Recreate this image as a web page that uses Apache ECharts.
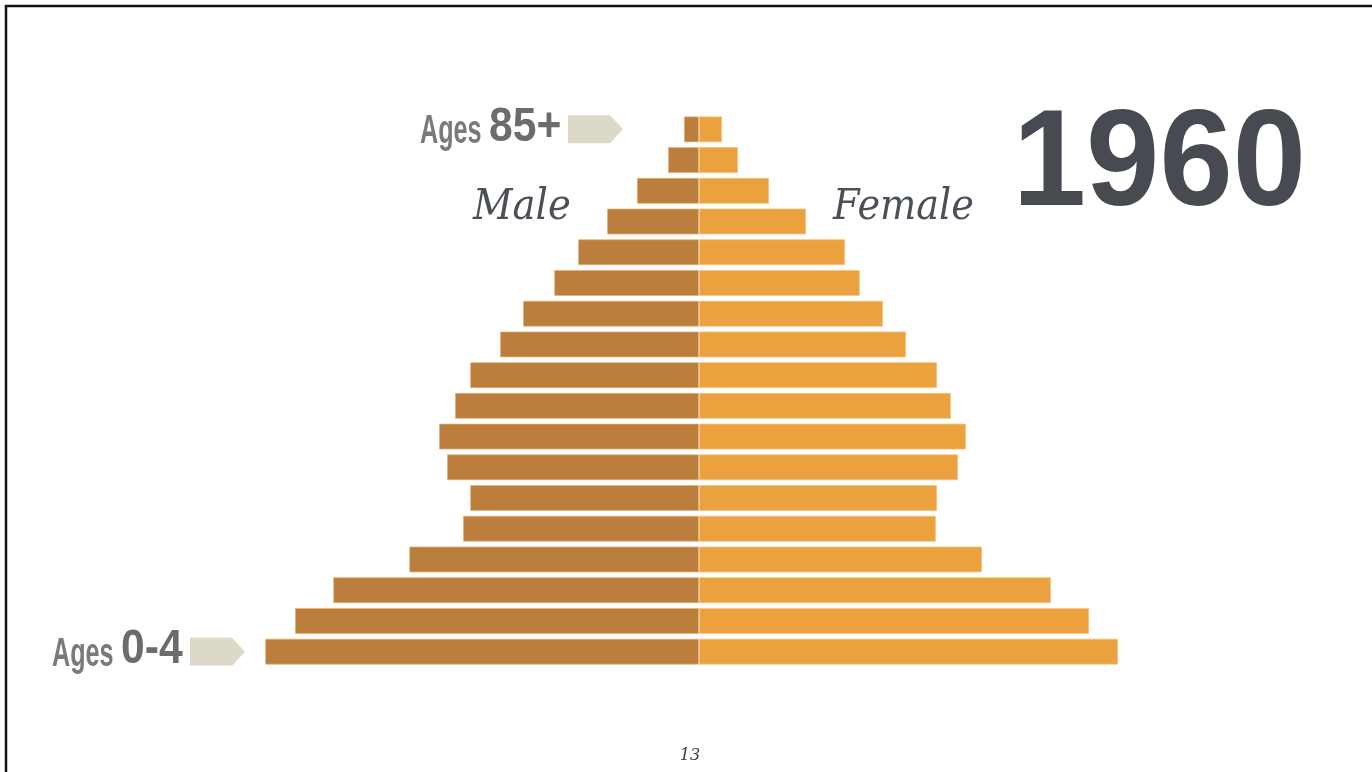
<!DOCTYPE html>
<html>
<head>
<meta charset="utf-8">
<script src="https://cdn.jsdelivr.net/npm/echarts@6/dist/echarts.min.js"></script>
<style>
html,body{margin:0;padding:0;background:#fff;}
#chart{width:1372px;height:772px;}
</style>
</head>
<body>
<div id="chart"></div>
<script>
// Age groups (bottom to top)
const ageGroups = ['0-4','5-9','10-14','15-19','20-24','25-29','30-34','35-39','40-44','45-49','50-54','55-59','60-64','65-69','70-74','75-79','80-84','85+'];
// Population, millions
const male   = [10.33, 9.62, 8.71, 6.90, 5.62, 5.45, 6.00, 6.19, 5.81, 5.45, 4.74, 4.19, 3.45, 2.88, 2.19, 1.48, 0.74, 0.36];
const female = [ 9.98, 9.29, 8.38, 6.74, 5.64, 5.67, 6.17, 6.36, 6.00, 5.67, 4.93, 4.38, 3.83, 3.48, 2.55, 1.67, 0.93, 0.55];
const yearLabel = '1960';
const maleLabel = 'Male';
const femaleLabel = 'Female';
const topAgeLabel = ['Ages', '85+'];
const bottomAgeLabel = ['Ages', '0-4'];
const pageNumber = '13';

const chart = echarts.init(document.getElementById('chart'), null, {renderer: 'canvas'});

const option = {
  backgroundColor: '#ffffff',
  animation: false,
  grid: {left: 195, right: 169, top: 114, bottom: 105, containLabel: false},
  xAxis: {type: 'value', min: -12, max: 12, show: false},
  yAxis: {type: 'category', data: ageGroups, show: false},
  series: [
    {
      name: maleLabel, type: 'bar', stack: 'pop', barWidth: 26,
      data: male.map(v => -v),
      itemStyle: {color: '#BB7E3D', borderColor: 'rgba(226,178,120,0.7)', borderWidth: 1}
    },
    {
      name: femaleLabel, type: 'bar', stack: 'pop', barWidth: 26,
      data: female,
      itemStyle: {color: '#EAA13E', borderColor: 'rgba(244,196,130,0.8)', borderWidth: 1}
    }
  ]
};
chart.setOption(option);

const yTop = chart.convertToPixel({yAxisIndex: 0}, '85+');
const yBot = chart.convertToPixel({yAxisIndex: 0}, '0-4');

function ageLabel(x0, yc, parts, arrowX) {
  return [
    {type: 'text', x: x0, y: yc + 3, scaleX: 0.63,
     style: {text: parts[0], x: 0, y: 0, fill: '#7a7a7a', align: 'left', verticalAlign: 'middle',
             font: 'bold 40px "Liberation Sans", Arial, sans-serif'}},
    {type: 'text', x: x0 + 69, y: yc - 2, scaleX: 0.87,
     style: {text: parts[1], x: 0, y: 0, fill: '#6c6c6c', align: 'left', verticalAlign: 'middle',
             font: 'bold 49px "Liberation Sans", Arial, sans-serif'}},
    {type: 'polygon', shape: {points: [[arrowX, yc - 14], [arrowX + 42, yc - 14], [arrowX + 55, yc], [arrowX + 42, yc + 14], [arrowX, yc + 14]]},
     style: {fill: '#DCD9C8'}}
  ];
}

chart.setOption({
  graphic: [
    {type: 'rect', shape: {x: 6, y: 6, width: 2000, height: 2000}, style: {fill: 'none', stroke: '#111', lineWidth: 2.5}, silent: true},
    {type: 'text', x: 1306, y: 167, scaleX: 0.955,
     style: {text: yearLabel, x: 0, y: 0, fill: '#474B51', align: 'right', verticalAlign: 'middle',
             font: 'bold 138px "Liberation Sans", Arial, sans-serif'}},
    {type: 'text', x: 473, y: 208, scaleX: 0.92,
     style: {text: maleLabel, x: 0, y: 0, fill: '#4B5058', align: 'left', verticalAlign: 'middle',
             font: 'italic 42px "DejaVu Serif", serif'}},
    {type: 'text', x: 833, y: 208, scaleX: 0.91,
     style: {text: femaleLabel, x: 0, y: 0, fill: '#4B5058', align: 'left', verticalAlign: 'middle',
             font: 'italic 42px "DejaVu Serif", serif'}},
    ...ageLabel(420, yTop, topAgeLabel, 568),
    ...ageLabel(52, yBot, bottomAgeLabel, 190),
    {type: 'text', x: 690, y: 756,
     style: {text: pageNumber, fill: '#3a3a3a', align: 'center', verticalAlign: 'middle',
             font: 'italic 16px "DejaVu Serif", serif'}}
  ]
});
</script>
</body>
</html>
